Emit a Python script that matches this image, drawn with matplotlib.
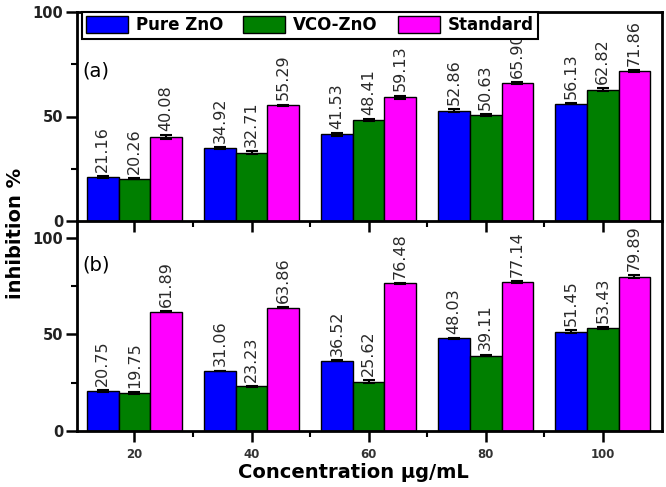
import numpy as np
import matplotlib
matplotlib.use("Agg")
import matplotlib.pyplot as plt
from matplotlib.ticker import MultipleLocator, FixedLocator

conc = [20, 40, 60, 80, 100]
series = ["Pure ZnO", "VCO-ZnO", "Standard"]
colors = ["#0000ff", "#007f00", "#ff00ff"]

# panel (a)
a_pure = [21.16, 34.92, 41.53, 52.86, 56.13]
a_vco = [20.26, 32.71, 48.41, 50.63, 62.82]
a_std = [40.08, 55.29, 59.13, 65.90, 71.86]
a_pure_err = [0.5, 0.6, 0.7, 0.8, 0.3]
a_vco_err = [0.4, 0.8, 0.4, 0.5, 0.6]
a_std_err = [1.0, 0.4, 0.9, 0.5, 0.5]

# panel (b)
b_pure = [20.75, 31.06, 36.52, 48.03, 51.45]
b_vco = [19.75, 23.23, 25.62, 39.11, 53.43]
b_std = [61.89, 63.86, 76.48, 77.14, 79.89]
b_pure_err = [0.6, 0.2, 0.3, 0.3, 0.8]
b_vco_err = [0.6, 0.2, 0.6, 0.5, 0.6]
b_std_err = [0.3, 0.2, 0.2, 0.5, 0.7]

fig = plt.figure(figsize=(6.66, 4.87), dpi=100)
L, R = 77 / 666, 662 / 666
y_mid = 1 - 221 / 487
ax_b = fig.add_axes([L, 1 - 431 / 487, R - L, y_mid - (1 - 431 / 487)])
ax_a = fig.add_axes([L, y_mid, R - L, (1 - 12 / 487) - y_mid])

w = 5.4
x = np.array(conc, dtype=float)


def draw(ax, vals, errs, ylim, tag, tag_y):
    for i, (v, e) in enumerate(zip(vals, errs)):
        xs = x + (i - 1) * w
        ax.bar(xs, v, width=w, color=colors[i], edgecolor="black", linewidth=1,
               yerr=e, error_kw=dict(ecolor="black", elinewidth=1.5, capsize=4, capthick=1.5),
               label=series[i], zorder=2)
        for xi, vi, ei in zip(xs, v, e):
            ax.annotate("%.2f" % vi, (xi, vi + ei), xytext=(0, 3), textcoords="offset points",
                        rotation=90, ha="center", va="bottom", fontsize=11.5,
                        color="#2a2a2a", annotation_clip=False, clip_on=True, zorder=1)
    ax.set_xlim(10.2, 110.1)
    ax.set_ylim(*ylim)
    ax.xaxis.set_major_locator(FixedLocator(conc))
    ax.xaxis.set_minor_locator(FixedLocator([30, 50, 70, 90]))
    ax.yaxis.set_major_locator(MultipleLocator(50))
    ax.yaxis.set_minor_locator(FixedLocator([25, 75]))
    ax.tick_params(which="major", direction="out", length=8, width=1.8)
    ax.tick_params(which="minor", direction="out", length=4, width=1.5)
    ax.tick_params(axis="y", labelsize=10.5, pad=2)
    for lab in ax.get_yticklabels():
        lab.set_fontweight("bold")
        lab.set_color("#222222")
    for s in ax.spines.values():
        s.set_linewidth(2)
    ax.text(0.009, tag_y, tag, transform=ax.transAxes, fontsize=14, va="center", ha="left")


draw(ax_a, [a_pure, a_vco, a_std], [a_pure_err, a_vco_err, a_std_err], (0, 100), "(a)", 0.72)
draw(ax_b, [b_pure, b_vco, b_std], [b_pure_err, b_vco_err, b_std_err], (0, 108.8), "(b)", 0.79)

ax_a.tick_params(axis="x", labelbottom=False)
ax_b.spines["top"].set_visible(False)
ax_b.tick_params(axis="x", labelsize=8.5, pad=4, labelcolor="#333333")
for lab in ax_b.get_xticklabels():
    lab.set_fontweight("bold")

# legend sits on top of the panel and hides the top of the "65.90" label, as in the original
leg = ax_a.legend(loc="upper left", bbox_to_anchor=(0.008, 1.0), borderaxespad=0, ncol=3,
                  fancybox=False, framealpha=1, edgecolor="black",
                  prop=dict(size=12, weight="bold"), handlelength=2.5, handleheight=1.2,
                  handletextpad=0.5, columnspacing=1.2, borderpad=0.25)
leg.get_frame().set_linewidth(1.5)
leg.set_zorder(5)

fig.text(16 / 666, 1 - 233 / 487, "inhibition %", rotation=90, fontsize=14, fontweight="bold",
         ha="center", va="center")
fig.text(353 / 666, 1 - 472 / 487, "Concentration μg/mL", fontsize=14, fontweight="bold",
         ha="center", va="center")

fig.savefig("out.png", dpi=100)
